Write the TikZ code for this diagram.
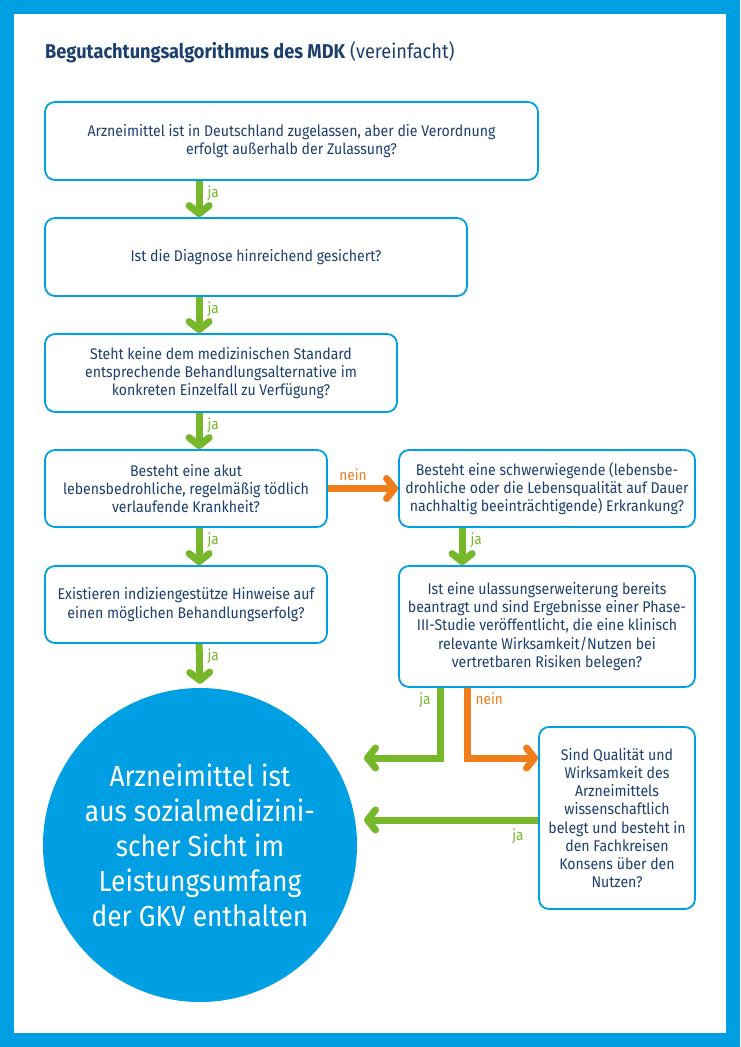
\documentclass[tikz,border=0pt]{standalone}
\usepackage{fontspec}
\setmainfont{Fira Sans}[FakeStretch=0.91]
\usetikzlibrary{arrows.meta}
\definecolor{mdkblue}{HTML}{009FE3}
\definecolor{mdktext}{HTML}{1D3F6E}
\definecolor{jagreen}{HTML}{76B82A}
\definecolor{neinorange}{HTML}{EF7D1A}

\begin{document}
\begin{tikzpicture}[
      x=1pt, y=-1pt,
      every node/.style={text=mdktext},
      box/.style={draw=mdkblue, line width=1.8pt, rounded corners=10pt, fill=white,
        align=center, inner sep=0pt, font=\fontsize{15.5}{18.2}\selectfont},
      jaarrow/.style={draw=jagreen, line width=7pt, -{Straight Barb[round, length=8pt, width=20pt]}},
      neinarrow/.style={draw=neinorange, line width=7pt, -{Straight Barb[round, length=8pt, width=20pt]}},
      jalbl/.style={text=jagreen, font=\fontsize{15}{15}\selectfont, inner sep=1pt},
      neinlbl/.style={text=neinorange, font=\fontsize{15}{15}\selectfont, inner sep=1pt},
    ]
    % Frame
    \fill[mdkblue] (0,0) rectangle (740,1047);
    \fill[white] (14,14) rectangle (726,1033);
    \node[anchor=base west, inner sep=0pt, font=\fontsize{20}{22}\selectfont] (title) at (45,58)
      {\textbf{Begutachtungsalgorithmus des MDK} (vereinfacht)};

    % Left column
    \node[box, minimum width=493pt, minimum height=78pt] (zulassung) at (291.5,141)
      {Arzneimittel ist in Deutschland zugelassen, aber die Verordnung\\erfolgt außerhalb der Zulassung?};
    \node[box, minimum width=422pt, minimum height=78pt] (diagnose) at (256,257)
      {Ist die Diagnose hinreichend gesichert?};
    \node[box, minimum width=352pt, minimum height=78pt] (standard) at (221,373)
      {Steht keine dem medizinischen Standard\\entsprechende Behandlungsalternative im\\konkreten Einzelfall zu Verfügung?};
    \node[box, minimum width=282pt, minimum height=77pt] (akut) at (186,488.5)
      {Besteht eine akut\\lebensbedrohliche, regelmäßig tödlich\\verlaufende Krankheit?};
    \node[box, minimum width=282pt, minimum height=77pt] (hinweise) at (186,604.5)
      {Existieren indiziengestütze Hinweise auf\\einen möglichen Behandlungserfolg?};

    % Right column
    \node[box, minimum width=296pt, minimum height=77pt] (schwer) at (547,488.5)
      {Besteht eine schwerwiegende (lebensbe-\\drohliche oder die Lebensqualität auf Dauer\\nachhaltig beeinträchtigende) Erkrankung?};
    \node[box, minimum width=296pt, minimum height=121pt] (studie) at (547,626.5)
      {Ist eine ulassungserweiterung bereits\\beantragt und sind Ergebnisse einer Phase-\\III-Studie veröffentlicht, die eine klinisch\\relevante Wirksamkeit/Nutzen bei\\vertretbaren Risiken belegen?};
    \node[box, minimum width=156pt, minimum height=182pt] (konsens) at (617,818)
      {Sind Qualität und\\Wirksamkeit des\\Arzneimittels\\wissenschaftlich\\belegt und besteht in\\den Fachkreisen\\Konsens über den\\Nutzen?};

    % Result
    \node[circle, fill=mdkblue, minimum size=314pt, inner sep=0pt, align=center,
          text=white, font=\fontsize{29}{35}\selectfont] (gkv) at (200,845)
      {Arzneimittel ist\\aus sozialmedizini-\\scher Sicht im\\Leistungsumfang\\der GKV enthalten};

    \coordinate (ja1) at (364,758);
    \coordinate (ja2) at (364,820);

    % Connectors
    \draw[jaarrow] ([xshift=155pt]zulassung.south west) -- node[jalbl, pos=0, anchor=north west, xshift=4pt] {ja} ([xshift=155pt]diagnose.north west);
    \draw[jaarrow] ([xshift=155pt]diagnose.south west) -- node[jalbl, pos=0, anchor=north west, xshift=4pt] {ja} ([xshift=155pt]standard.north west);
    \draw[jaarrow] ([xshift=155pt]standard.south west) -- node[jalbl, pos=0, anchor=north west, xshift=4pt] {ja} ([xshift=155pt]akut.north west);
    \draw[jaarrow] ([xshift=155pt]akut.south west) -- node[jalbl, pos=0, anchor=north west, xshift=4pt] {ja} ([xshift=155pt]hinweise.north west);
    \draw[jaarrow] ([xshift=155pt]hinweise.south west) -- node[jalbl, pos=0, anchor=north west, xshift=4pt] {ja} ([yshift=4pt]gkv.north);
    \draw[neinarrow] (akut.east) -- node[neinlbl, pos=0, anchor=south west, xshift=7pt, yshift=3pt] {nein} (schwer.west);
    \draw[jaarrow] ([xshift=64pt]schwer.south west) -- node[jalbl, pos=0, anchor=north west, xshift=4pt] {ja} ([xshift=64pt]studie.north west);
    \draw[jaarrow] ([xshift=42pt]studie.south west) |- node[jalbl, pos=0, anchor=north east, xshift=-5pt] {ja} (ja1);
    \draw[neinarrow] ([xshift=69pt]studie.south west) |- node[neinlbl, pos=0, anchor=north west, xshift=4pt] {nein} (konsens.west |- ja1);
    \draw[jaarrow] (konsens.west |- ja2) -- node[jalbl, pos=0, anchor=north east, xshift=-10pt, yshift=-4pt] {ja} (ja2);
  \end{tikzpicture}
\end{document}
